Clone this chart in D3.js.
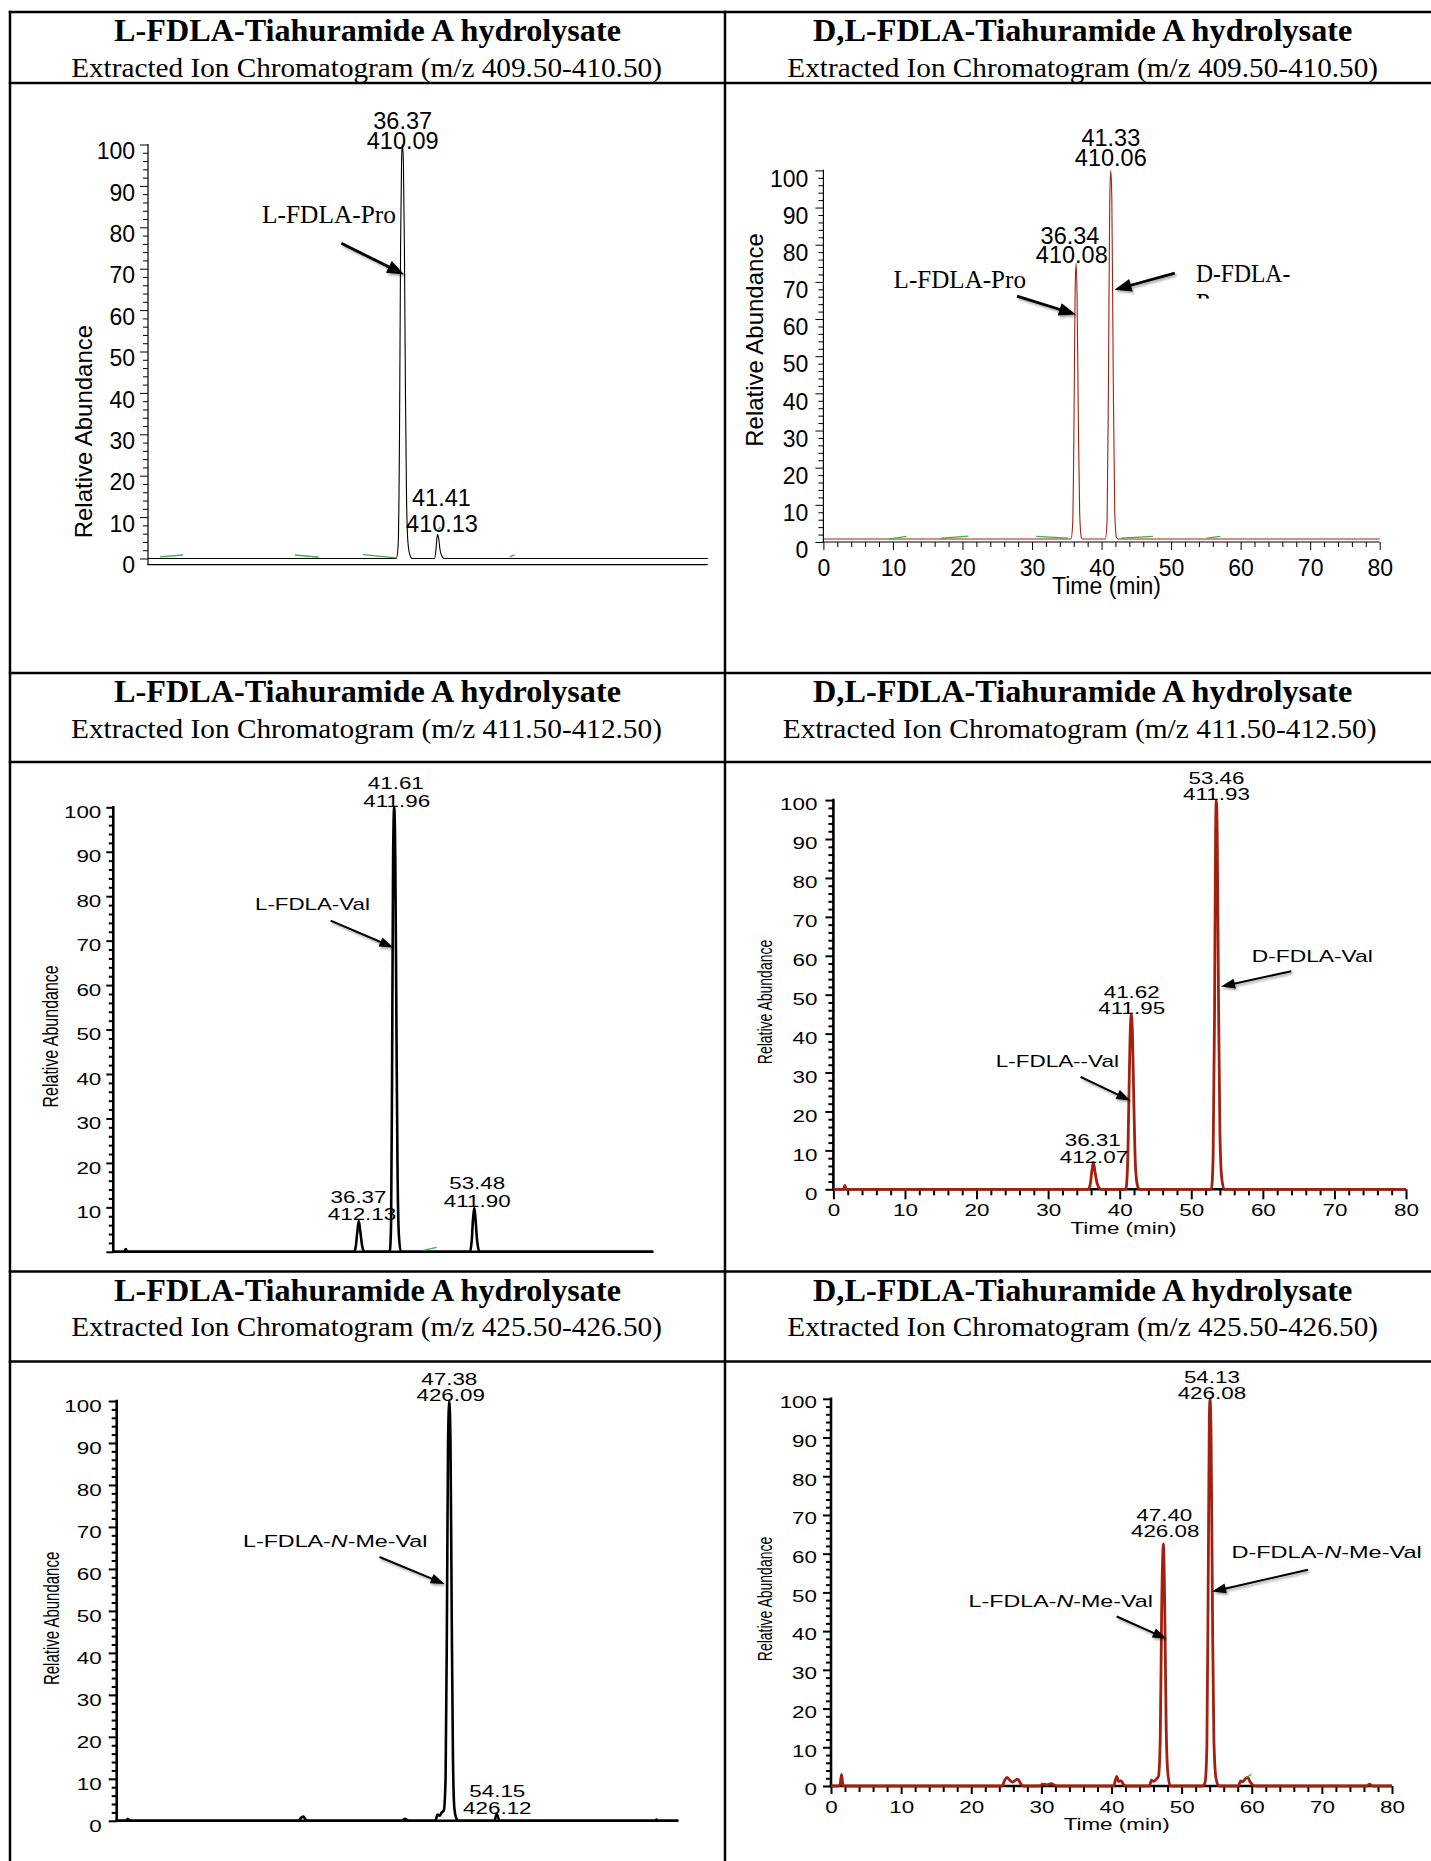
<!DOCTYPE html>
<html><head><meta charset="utf-8">
<script src="https://cdn.jsdelivr.net/npm/d3@7"></script>
<style>html,body{margin:0;padding:0;background:#fff;} svg{display:block;}</style>
</head><body>
<svg id="chart" width="1431" height="1861"></svg>
<script>
// ================= DATA =================
const xTicks = [0, 10, 20, 30, 40, 50, 60, 70, 80];
const yTicks = [0, 10, 20, 30, 40, 50, 60, 70, 80, 90, 100];
const yTicksNoZero = [10, 20, 30, 40, 50, 60, 70, 80, 90, 100];

const titlesLeft = "L-FDLA-Tiahuramide A hydrolysate";
const titlesRight = "D,L-FDLA-Tiahuramide A hydrolysate";
const subtitles = [
  "Extracted Ion Chromatogram (m/z 409.50-410.50)",
  "Extracted Ion Chromatogram (m/z 411.50-412.50)",
  "Extracted Ion Chromatogram (m/z 425.50-426.50)"
];
const yAxisTitle = "Relative Abundance";
const xAxisTitle = "Time (min)";

// traces: [time (min), relative abundance]
const traceA = [[0,0],[35.5,0],[35.75,3],[35.95,30],[36.1,75],[36.25,97],[36.37,100],[36.5,96],[36.65,75],[36.8,40],[36.95,15],[37.15,4],[37.45,0.8],[37.8,0],
  [40.95,0],[41.15,2],[41.3,5],[41.41,5.8],[41.55,4.8],[41.75,2],[42.0,0.6],[42.3,0],[80,0]];
const traceB = [[0,0.8],[35.6,0.8],[35.85,5],[36.05,35],[36.2,68],[36.34,75],[36.48,66],[36.65,35],[36.85,8],[37.1,1.2],[37.3,0.8],
  [40.55,0.8],[40.8,6],[41.0,45],[41.18,92],[41.33,100],[41.48,92],[41.68,45],[41.9,8],[42.15,1.2],[42.4,0.8],[80,0.8]];
const traceC = [[0,0],[1.6,0],[1.84,0.6],[2.1,0],[35.7,0],[35.95,1.5],[36.15,4.5],[36.37,6.9],[36.6,4.5],[36.85,1.5],[37.2,0],
  [40.95,0],[41.15,6],[41.3,40],[41.45,88],[41.61,100],[41.78,88],[41.95,50],[42.1,20],[42.3,4],[42.6,0],
  [52.85,0],[53.1,2.5],[53.3,7.5],[53.48,9.9],[53.68,7],[53.9,2.5],[54.25,0],[80,0]];
const traceD = [[0,0],[1.4,0],[1.6,1],[1.8,0],[35.6,0],[35.9,1.5],[36.1,4.5],[36.31,6.9],[36.55,4.5],[36.85,1.5],[37.4,0],
  [40.85,0],[41.1,6],[41.3,25],[41.5,42],[41.62,45],[41.78,40],[41.98,22],[42.2,6],[42.5,0.8],[42.8,0],
  [52.8,0],[53.05,8],[53.25,45],[53.4,92],[53.5,100],[53.62,92],[53.8,50],[54.0,15],[54.25,3],[54.6,0],[80,0]];
const traceE = [[0,0],[1.3,0],[1.6,0.5],[1.9,0],[25.9,0],[26.3,0.8],[26.6,1],[26.9,0.3],[27.3,0],[40.7,0],[41.0,0.5],[41.3,0.3],[41.6,0],
  [45.4,0],[45.7,1.5],[46.0,1.2],[46.3,2],[46.6,2.5],[46.85,10],[47.05,50],[47.2,90],[47.38,100],[47.55,90],[47.72,50],[47.9,15],[48.1,3],[48.4,0.5],[48.7,0],
  [53.8,0],[54.0,1],[54.15,1.6],[54.3,1],[54.5,0],[76.7,0],[76.9,0.3],[77.1,0],[80,0]];
const traceF = [[0,0],[1.0,0],[1.3,0.5],[1.5,3],[1.7,0.3],[2.0,0],[24.4,0],[24.8,1.6],[25.1,2.2],[25.5,1.5],[25.9,1.0],[26.3,1.5],[26.6,1.8],[27.0,0.8],[27.4,0],
  [29.7,0],[30.2,0.5],[30.8,0.3],[31.4,0.6],[31.9,0.2],[32.5,0],[40.3,0],[40.55,1.5],[40.75,2.5],[41.0,1.2],[41.35,1.4],[41.7,0.4],[42.1,0],
  [45.4,0],[45.7,1.5],[46.0,1.2],[46.4,1.8],[46.7,2.5],[46.95,12],[47.15,45],[47.4,62.5],[47.6,45],[47.8,15],[48.05,3],[48.4,0],
  [53.0,0],[53.35,1],[53.6,10],[53.8,55],[53.95,95],[54.05,100],[54.2,90],[54.4,45],[54.6,12],[54.9,2],[55.3,0],
  [58.1,0],[58.4,1.3],[58.7,1.1],[59.1,1.9],[59.4,2.2],[59.8,1],[60.2,0.2],[60.6,0],[76.4,0],[76.8,0.5],[77.2,0],[80,0]];

// green baseline marks: [t1, v1, t2, v2]
const greenA = [[1.7,0.4,5.0,0.85],[21.0,0.85,24.4,0.3],[30.7,0.95,35.5,0.15],[51.7,0.4,52.4,0.85],[41.45,7.0,41.8,7.6]];
const greenB = [[9.35,0.8,11.95,1.5],[16.9,1.03,20.87,1.6],[30.6,1.5,35.2,1.03],[42.8,1.03,47.4,1.5],[55.1,1.03,57.1,1.5]];
const greenC = [[45.9,0.3,47.9,1.0]];
const greenD = [];
const greenE = [];
const greenF = [[59.2,2.2,59.95,3.0]];

// peak annotations
const peakTimesA = ["36.37", "41.41"], peakMzA = ["410.09", "410.13"];
const peakTimesB = ["36.34", "41.33"], peakMzB = ["410.08", "410.06"];
const peakTimesC = ["36.37", "41.61", "53.48"], peakMzC = ["412.13", "411.96", "411.90"];
const peakTimesD = ["36.31", "41.62", "53.46"], peakMzD = ["412.07", "411.95", "411.93"];
const peakTimesE = ["47.38", "54.15"], peakMzE = ["426.09", "426.12"];
const peakTimesF = ["47.40", "54.13"], peakMzF = ["426.08", "426.08"];

// compound labels (*...* = italic)
const compoundsA = ["L-FDLA-Pro"];
const compoundsB = ["L-FDLA-Pro", "D-FDLA-"];
const compoundsC = ["L-FDLA-Val"];
const compoundsD = ["L-FDLA--Val", "D-FDLA-Val"];
const compoundsE = ["L-FDLA-*N*-Me-Val"];
const compoundsF = ["L-FDLA-*N*-Me-Val", "D-FDLA-*N*-Me-Val"];

// ================= LAYOUT / STYLE =================
const SERIF = "'Liberation Serif','Times New Roman',serif";
const SANS = "'Liberation Sans',Arial,Helvetica,sans-serif";
const RED = "#a3200f";
const GREEN = "#3cb043";
const W = 1431, H = 1861;

const table = {left: 10, divider: 725, rows: [12, 83, 673, 762, 1271.5, 1361.5], width: 2.5};
const headers = [
  {top: 12,     sub: 0, lw: 507, rw: 539.5, lsw: 591, rsw: 591, rsc: 1082.7},
  {top: 673,    sub: 1, lw: 507, rw: 539.5, lsw: 591, rsw: 594, rsc: 1079.6},
  {top: 1271.5, sub: 2, lw: 507, rw: 539.5, lsw: 591, rsw: 591, rsc: 1082.7}
];

const thin = {lineW: 1.1, axisW: 1.2, tickW: 1, tickFont: 23, sx: 1, peakFont: 23.5, arrowW: 2.8, headLen: 17, headW: 13, compSerif: true};
const thick = {lineW: 2.6, axisW: 2.6, tickW: 2, tickFont: 16, sx: 1.4, peakFont: 16, arrowW: 2, headLen: 14, headW: 10, compSerif: false};

const layoutA = Object.assign({}, thin, {xr:[148,707.7], y0:558.5, y100:144.5, axisY:564.7, color:"#000",
  yLabels: yTicks, yLabelDy: 6, tickGap: 13, yMajorLen: 8, yMinorLen: 5, xAxisTicks: false,
  yTitle: [83.8, 431.6, 24, 1],
  peakPos: [[402.7,120.5],[402.7,140.5],[441.4,497.9],[442,523.5]],
  compPos: [[262,223.4,134]],
  arrows: [[341.3,243.3,404.1,274.5]]});
const layoutB = Object.assign({}, thin, {xr:[823.4,1379.7], y0:542, y100:170.4, axisY:542, color:RED,
  yLabels: yTicks, yLabelDy: 7.5, tickGap: 15, yMajorLen: 8, yMinorLen: 5,
  xAxisTicks: true, xMajorLen: 8, xMinorLen: 5, xLabelY: 568, xTitle: [1106.5, 585.5, 23],
  yTitle: [754, 340, 24, 1],
  peakPos: [[1070,236],[1071.8,255],[1110.8,138],[1110.8,157.5]],
  compPos: [[893.6,288.4,132.4],[1196,282,94.3]],
  arrows: [[1017,296.2,1075.9,314.4],[1174.8,273.2,1114.5,289.7]],
  clipped: {text: "Pro", x: 1196, y: 311, clipY: 290, clipH: 8.5}});
const layoutC = Object.assign({}, thick, {xr:[113.3,653.3], y0:1251.8, y100:807.3, axisY:1251.8, color:"#000",
  yLabels: yTicksNoZero, yLabelDy: 4.4, tickGap: 12, yMajorLen: 7, yMinorLen: 4.5, xAxisTicks: false,
  yTitle: [50.3, 1036.4, 16, 1.42],
  peakPos: [[358.5,1197],[362,1214.2],[395.8,782.9],[396.7,800.9],[477.2,1183.2],[477.2,1201.2]],
  compPos: [[255,904.2,115]],
  arrows: [[330.6,920.7,393.4,947.5]]});
const layoutD = Object.assign({}, thick, {xr:[833.4,1406], y0:1189.3, y100:800.1, axisY:1189.3, color:RED, lineW: 2.8,
  yLabels: yTicks, yLabelDy: 4, tickGap: 16, yMajorLen: 8, yMinorLen: 5,
  xAxisTicks: true, xMajorLen: 10, xMinorLen: 6, xLabelY: 1210.4, xTitle: [1123.5, 1228.7, 16],
  yTitle: [764.4, 1002, 14, 1.5],
  peakPos: [[1092.7,1140.7],[1094,1156.8],[1131.7,992.6],[1131.7,1008.7],[1216.5,778],[1216.5,794]],
  compPos: [[995.7,1061.5,123.3],[1251.8,956.3,121.1]],
  arrows: [[1080.5,1076.8,1130.3,1100.5],[1291.3,971.2,1221,986.5]]});
const layoutE = Object.assign({}, thick, {xr:[116.7,678.3], y0:1820.8, y100:1401, axisY:1820.8, color:"#000",
  yLabels: yTicks, yLabelDy: 4.6, tickGap: 15, yMajorLen: 8, yMinorLen: 5, xAxisTicks: false,
  yTitle: [51.2, 1618.4, 15, 1.42],
  peakPos: [[449.3,1378.8],[450.7,1395.3],[497.3,1790.9],[497.3,1808.1]],
  compPos: [[243,1541.7,184.4]],
  arrows: [[379.5,1557,444.6,1583.9]]});
const layoutF = Object.assign({}, thick, {xr:[831,1392], y0:1786, y100:1398.8, axisY:1786, color:RED, lineW: 2.8,
  yLabels: yTicks, yLabelDy: 3, tickGap: 14, yMajorLen: 8, yMinorLen: 5,
  xAxisTicks: true, xMajorLen: 8, xMinorLen: 6, xLabelY: 1807, xTitle: [1116.7, 1824.6, 16],
  yTitle: [764.4, 1599, 14, 1.5],
  peakPos: [[1164.3,1514.9],[1165.2,1531],[1211.9,1376.9],[1211.9,1393]],
  compPos: [[968.5,1601.1,184.5],[1231.4,1552,190.5]],
  arrows: [[1116.7,1616.5,1166.6,1638.7],[1308,1569.7,1212,1591.6]]});

const panels = [
  {trace: traceA, green: greenA, times: peakTimesA, mz: peakMzA, comps: compoundsA, L: layoutA},
  {trace: traceB, green: greenB, times: peakTimesB, mz: peakMzB, comps: compoundsB, L: layoutB},
  {trace: traceC, green: greenC, times: peakTimesC, mz: peakMzC, comps: compoundsC, L: layoutC},
  {trace: traceD, green: greenD, times: peakTimesD, mz: peakMzD, comps: compoundsD, L: layoutD},
  {trace: traceE, green: greenE, times: peakTimesE, mz: peakMzE, comps: compoundsE, L: layoutE},
  {trace: traceF, green: greenF, times: peakTimesF, mz: peakMzF, comps: compoundsF, L: layoutF}
];

// ================= DRAW =================
const svg = d3.select("#chart");
svg.append("rect").attr("width", W).attr("height", H).attr("fill", "#fff");
const defs = svg.append("defs");
defs.append("filter").attr("id", "shadow").attr("x", "-30%").attr("y", "-30%").attr("width", "160%").attr("height", "160%")
  .append("feDropShadow").attr("dx", 1.5).attr("dy", 2).attr("stdDeviation", 1.3)
  .attr("flood-color", "#000").attr("flood-opacity", 0.35);

function addRich(t, str) {
  str.split("*").forEach((p, i) => {
    if (!p) return;
    const s = t.append("tspan").text(p);
    if (i % 2 === 1) s.attr("font-style", "italic");
  });
}
function fitText(g, str, x, y, width, family, size, weight, anchor, dy) {
  const t = g.append("text").attr("text-anchor", anchor).attr("font-family", family)
    .attr("font-size", size).attr("font-weight", weight).attr("fill", "#000");
  if (dy) t.attr("dy", dy);
  addRich(t, str);
  const len = t.node().getComputedTextLength();
  t.attr("transform", `translate(${x},${y}) scale(${width / len},1)`);
  return t;
}
function plainText(g, str, x, y, size, sx, anchor) {
  return g.append("text").attr("transform", `translate(${x},${y}) scale(${sx},1)`)
    .attr("text-anchor", anchor || "middle").attr("dy", "0.36em")
    .attr("font-family", SANS).attr("font-size", size).attr("fill", "#000").text(str);
}
function arrow(g, a, L) {
  const [x1, y1, x2, y2] = a;
  const ang = Math.atan2(y2 - y1, x2 - x1);
  const c = Math.cos(ang), s = Math.sin(ang);
  const bx = x2 - L.headLen * c, by = y2 - L.headLen * s;
  const grp = g.append("g").attr("filter", "url(#shadow)");
  grp.append("line").attr("x1", x1).attr("y1", y1).attr("x2", bx + 2 * c).attr("y2", by + 2 * s)
    .attr("stroke", "#000").attr("stroke-width", L.arrowW);
  const px = -s, py = c, hw = L.headW / 2;
  grp.append("path").attr("d", `M${x2},${y2}L${bx + px * hw},${by + py * hw}L${bx - px * hw},${by - py * hw}Z`).attr("fill", "#000");
}

// ---- table ----
const tg = svg.append("g").attr("stroke", "#000").attr("stroke-width", table.width);
table.rows.forEach(r => tg.append("line").attr("x1", table.left - 1.25).attr("x2", W + 5).attr("y1", r).attr("y2", r));
[table.left, table.divider].forEach(v => tg.append("line").attr("x1", v).attr("x2", v).attr("y1", table.rows[0] - 1.25).attr("y2", H + 5));

// ---- headers ----
const hg = svg.append("g");
const leftC = (table.left + table.divider) / 2;
headers.forEach(h => {
  fitText(hg, titlesLeft, leftC, h.top + 29, h.lw, SERIF, 32, "bold", "middle");
  fitText(hg, titlesRight, 1082.7, h.top + 29, h.rw, SERIF, 32, "bold", "middle");
  fitText(hg, subtitles[h.sub], leftC - 1, h.top + 64.5, h.lsw, SERIF, 28, "normal", "middle");
  fitText(hg, subtitles[h.sub], h.rsc, h.top + 64.5, h.rsw, SERIF, 28, "normal", "middle");
});

// ---- panels ----
panels.forEach((P, pi) => {
  const L = P.L;
  const g = svg.append("g");
  const x = d3.scaleLinear().domain([0, 80]).range(L.xr);
  const y = d3.scaleLinear().domain([0, 100]).range([L.y0, L.y100]);
  const minor = d3.range(0, 101, 2).filter(v => v % 10 !== 0);

  // y axis ticks
  const ym = g.append("g").attr("transform", `translate(${x(0)},0)`)
    .call(d3.axisLeft(y).tickValues(minor).tickSize(L.yMinorLen).tickFormat(""));
  ym.select(".domain").remove();
  ym.selectAll("line").attr("stroke", "#000").attr("stroke-width", L.tickW);
  const yM = g.append("g").attr("transform", `translate(${x(0)},0)`)
    .call(d3.axisLeft(y).tickValues(yTicks).tickSize(L.yMajorLen)
      .tickFormat(v => L.yLabels.includes(v) ? String(v) : ""));
  yM.select(".domain").remove();
  yM.selectAll("line").attr("stroke", "#000").attr("stroke-width", L.tickW);
  yM.selectAll("text").attr("font-family", SANS).attr("font-size", L.tickFont).attr("fill", "#000")
    .attr("x", -L.tickGap / L.sx).attr("y", L.yLabelDy).attr("dy", "0.36em")
    .attr("transform", `scale(${L.sx},1)`);

  // x axis ticks
  if (L.xAxisTicks) {
    const xminor = d3.range(0, 81, 2).filter(v => v % 10 !== 0);
    const xm = g.append("g").attr("transform", `translate(0,${L.axisY})`)
      .call(d3.axisBottom(x).tickValues(xminor).tickSize(L.xMinorLen).tickFormat(""));
    xm.select(".domain").remove();
    xm.selectAll("line").attr("stroke", "#000").attr("stroke-width", L.tickW);
    const xM = g.append("g").attr("transform", `translate(0,${L.axisY})`)
      .call(d3.axisBottom(x).tickValues(xTicks).tickSize(L.xMajorLen).tickFormat(d3.format("d")));
    xM.select(".domain").remove();
    xM.selectAll("line").attr("stroke", "#000").attr("stroke-width", L.tickW);
    xM.selectAll("text").attr("font-family", SANS).attr("font-size", L.tickFont).attr("fill", "#000")
      .attr("y", L.xLabelY - L.axisY).attr("dy", "0.36em").attr("transform", `scale(${L.sx},1)`);
    plainText(g, xAxisTitle, L.xTitle[0], L.xTitle[1], L.xTitle[2], L.sx);
  }

  // axis lines
  g.append("line").attr("x1", x(0)).attr("x2", x(0)).attr("y1", y(100) - L.axisW / 2).attr("y2", L.axisY)
    .attr("stroke", "#000").attr("stroke-width", L.axisW);
  g.append("line").attr("x1", x(0) - L.axisW / 2).attr("x2", x(80)).attr("y1", L.axisY).attr("y2", L.axisY)
    .attr("stroke", "#000").attr("stroke-width", L.axisW);

  // y title
  g.append("text").attr("transform", `translate(${L.yTitle[0]},${L.yTitle[1]}) scale(${L.yTitle[3]},1) rotate(-90)`)
    .attr("text-anchor", "middle").attr("dy", "0.36em").attr("font-family", SANS)
    .attr("font-size", L.yTitle[2]).attr("fill", "#000").text(yAxisTitle);

  // trace
  const line = d3.line().x(d => x(d[0])).y(d => y(d[1])).curve(d3.curveMonotoneX);
  g.append("path").datum(P.trace).attr("d", line).attr("fill", "none")
    .attr("stroke", L.color).attr("stroke-width", L.lineW).attr("stroke-linejoin", "round");

  // green marks
  g.selectAll(null).data(P.green).join("line")
    .attr("x1", d => x(d[0])).attr("y1", d => y(d[1])).attr("x2", d => x(d[2])).attr("y2", d => y(d[3]))
    .attr("stroke", GREEN).attr("stroke-width", 1.3);

  // peak labels
  P.times.forEach((t, i) => {
    const a = L.peakPos[2 * i], b = L.peakPos[2 * i + 1];
    plainText(g, t, a[0], a[1], L.peakFont, L.sx);
    plainText(g, P.mz[i], b[0], b[1], L.peakFont, L.sx);
  });

  // compound labels
  P.comps.forEach((c, i) => {
    const p = L.compPos[i];
    if (L.compSerif) fitText(g, c, p[0], p[1], p[2], SERIF, 25, "normal", "start");
    else fitText(g, c, p[0], p[1], p[2], SANS, 16, "normal", "start", "0.36em");
  });
  L.arrows.forEach(a => arrow(g, a, L));

  // clipped continuation text
  if (L.clipped) {
    const c = L.clipped;
    defs.append("clipPath").attr("id", "clip" + pi).append("rect")
      .attr("x", c.x - 5).attr("y", c.clipY).attr("width", 80).attr("height", c.clipH);
    g.append("g").attr("clip-path", `url(#clip${pi})`).append("text")
      .attr("x", c.x).attr("y", c.y).attr("font-family", SERIF).attr("font-size", 25).attr("fill", "#000").text(c.text);
  }
});
</script>
</body></html>
